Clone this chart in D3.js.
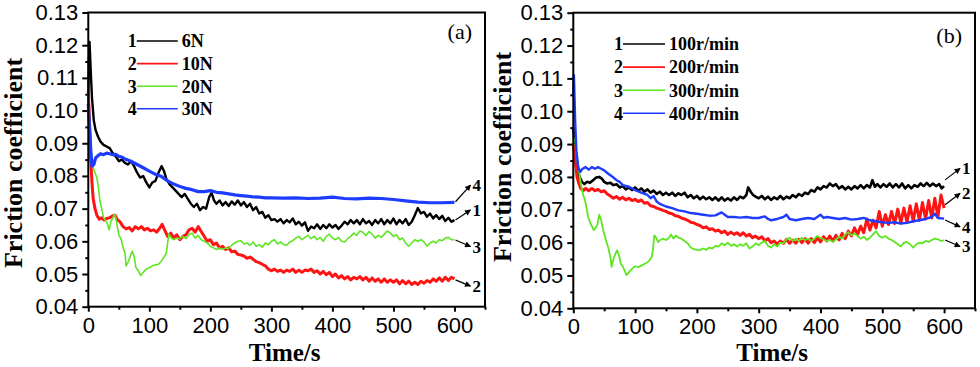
<!DOCTYPE html>
<html>
<head>
<meta charset="utf-8">
<title>Friction coefficient vs time</title>
<script src="https://d3js.org/d3.v7.min.js"></script>
<style>
  body { margin: 0; background: #fff; }
  .tick line { stroke: #000; stroke-width: 2px; }
  .title { font-family: "Liberation Serif", "Times New Roman", serif; font-weight: bold; font-size: 26px; }
  .xtitle { font-size: 25px; }
  .leg { font-family: "Liberation Serif", "Times New Roman", serif; font-weight: bold; font-size: 18px; }
  .tag { font-family: "Liberation Serif", "Times New Roman", serif; font-size: 22px; }
  .endlab { font-family: "Liberation Serif", "Times New Roman", serif; font-weight: bold; font-size: 17px; }
</style>
</head>
<body>
<svg id="chart" width="980" height="367"></svg>
<script>
// ---- data: [time s, friction coefficient] ----
var colors = ["#000000", "#ff1414", "#5ee622", "#1e3cff"];

// panel (a): different loads
var loadLabels = ["6N", "10N", "20N", "30N"];
var load6N = [[0,0.104],[1,0.115],[2,0.121],[4,0.112],[6,0.104],[9,0.097],[12,0.094],[16,0.092],[20,0.0905],[25,0.0895],[30,0.089],[35,0.0885],[40,0.087],[45,0.086],[50,0.0845],[55,0.085],[60,0.084],[65,0.0835],[70,0.0845],[75,0.083],[80,0.081],[85,0.0795],[90,0.080],[95,0.078],[100,0.0765],[105,0.078],[110,0.0785],[115,0.081],[120,0.083],[124,0.0815],[128,0.079],[133,0.0775],[138,0.0765],[143,0.0755],[148,0.0745],[153,0.0735],[158,0.0745],[163,0.073],[168,0.0715],[173,0.0705],[178,0.0715],[183,0.0695],[188,0.0705],[193,0.070],[198,0.0735],[202,0.0748],[206,0.0725],[210,0.0715],[215,0.0725],[220,0.071],[225,0.072],[230,0.0708],[235,0.0722],[240,0.0712],[245,0.0725],[250,0.071],[255,0.072],[260,0.0705],[265,0.0715],[270,0.0695],[275,0.0705],[280,0.0685],[285,0.069],[290,0.0672],[295,0.068],[300,0.0665],[305,0.0668],[310,0.066],[315,0.0668],[320,0.0655],[325,0.0665],[330,0.0658],[335,0.067],[340,0.0652],[345,0.066],[350,0.0648],[355,0.0658],[360,0.0632],[365,0.0645],[370,0.064],[375,0.0652],[380,0.0638],[385,0.065],[390,0.064],[395,0.0652],[400,0.0642],[405,0.065],[410,0.0638],[415,0.0648],[420,0.066],[425,0.0652],[430,0.0665],[435,0.0655],[440,0.0665],[445,0.0652],[450,0.0668],[455,0.0655],[460,0.0662],[465,0.065],[470,0.0665],[475,0.0655],[480,0.0668],[485,0.0652],[490,0.0665],[495,0.0655],[500,0.067],[505,0.0652],[510,0.0665],[515,0.0655],[520,0.0668],[525,0.065],[530,0.066],[535,0.068],[540,0.0702],[545,0.0685],[550,0.069],[555,0.0675],[560,0.0685],[565,0.067],[570,0.068],[575,0.0668],[580,0.0678],[585,0.0662],[590,0.0672],[595,0.066],[600,0.0665]];
var load10N = [[0,0.106],[2,0.096],[4,0.085],[6,0.078],[8,0.073],[11,0.070],[14,0.068],[18,0.0668],[22,0.0672],[26,0.0665],[30,0.067],[35,0.0672],[40,0.0678],[44,0.068],[48,0.0665],[52,0.066],[57,0.0645],[62,0.0638],[67,0.0642],[72,0.0632],[77,0.0645],[82,0.0638],[87,0.0645],[92,0.0635],[97,0.064],[102,0.0632],[107,0.0635],[112,0.0628],[117,0.064],[121,0.0652],[125,0.0635],[130,0.0615],[135,0.0625],[140,0.061],[145,0.062],[150,0.0605],[155,0.0615],[160,0.062],[165,0.0635],[170,0.064],[175,0.0628],[180,0.0645],[185,0.063],[190,0.0615],[195,0.060],[200,0.0605],[205,0.059],[210,0.0595],[215,0.058],[220,0.0585],[225,0.0575],[230,0.058],[235,0.0568],[240,0.057],[245,0.056],[250,0.0558],[255,0.0555],[260,0.0548],[265,0.0552],[270,0.0545],[275,0.0538],[280,0.0535],[285,0.053],[290,0.0525],[295,0.0515],[300,0.051],[305,0.0515],[310,0.0508],[315,0.0512],[320,0.0505],[325,0.0512],[330,0.0508],[335,0.0515],[340,0.0505],[345,0.0512],[350,0.0505],[355,0.0512],[360,0.051],[365,0.0515],[370,0.0505],[375,0.051],[380,0.050],[385,0.0508],[390,0.0498],[395,0.0505],[400,0.0492],[405,0.050],[410,0.0488],[415,0.0495],[420,0.0485],[425,0.0492],[430,0.0482],[435,0.049],[440,0.0485],[445,0.0492],[450,0.0482],[455,0.049],[460,0.0478],[465,0.0488],[470,0.0478],[475,0.0485],[480,0.0475],[485,0.0485],[490,0.0475],[495,0.0482],[500,0.0475],[505,0.0482],[510,0.047],[515,0.048],[520,0.047],[525,0.0478],[530,0.0468],[535,0.0475],[540,0.0468],[545,0.0478],[550,0.0472],[555,0.048],[560,0.0475],[565,0.0485],[570,0.0478],[575,0.0488],[580,0.0478],[585,0.049],[590,0.048],[595,0.049],[600,0.0485]];
var load20N = [[2,0.090],[5,0.087],[8,0.0825],[11,0.081],[14,0.0795],[17,0.076],[19,0.0725],[22,0.070],[25,0.0672],[28,0.0665],[31,0.0655],[34,0.0635],[37,0.066],[41,0.0675],[44,0.0683],[47,0.065],[50,0.062],[54,0.0605],[57,0.058],[60,0.0565],[62,0.0525],[65,0.0535],[68,0.055],[72,0.057],[75,0.0555],[78,0.052],[82,0.051],[86,0.0495],[90,0.0505],[95,0.0515],[100,0.052],[105,0.0525],[110,0.0528],[115,0.053],[120,0.054],[125,0.0555],[128,0.0565],[130,0.0595],[132,0.0622],[136,0.061],[140,0.0605],[145,0.061],[150,0.0608],[155,0.0615],[160,0.0608],[165,0.062],[170,0.0625],[175,0.061],[180,0.0618],[185,0.0605],[190,0.060],[195,0.0595],[200,0.0585],[205,0.058],[210,0.0575],[215,0.058],[220,0.0575],[225,0.058],[230,0.0578],[235,0.0588],[240,0.0595],[245,0.060],[250,0.0602],[255,0.0592],[260,0.0595],[265,0.0588],[270,0.0598],[275,0.0585],[280,0.059],[285,0.0582],[290,0.0595],[295,0.059],[300,0.060],[305,0.0605],[310,0.0592],[315,0.0598],[320,0.059],[325,0.0588],[330,0.0598],[335,0.0602],[340,0.061],[345,0.0615],[350,0.0605],[355,0.0612],[360,0.0618],[365,0.0608],[370,0.0615],[375,0.0605],[380,0.0612],[385,0.060],[390,0.0615],[395,0.0622],[400,0.061],[405,0.0605],[410,0.0612],[415,0.060],[420,0.0598],[425,0.0608],[430,0.0615],[435,0.0625],[440,0.0618],[445,0.0632],[450,0.0628],[455,0.0618],[460,0.063],[465,0.0622],[470,0.061],[475,0.0618],[480,0.0612],[485,0.0622],[490,0.0632],[495,0.0625],[500,0.0615],[505,0.062],[510,0.0605],[515,0.061],[520,0.0595],[525,0.0585],[530,0.0595],[535,0.0605],[540,0.060],[545,0.0605],[550,0.0598],[555,0.0585],[560,0.0595],[565,0.060],[570,0.0595],[575,0.0605],[580,0.0602],[585,0.061],[590,0.0612],[595,0.0605],[600,0.0605]];
var load30N = [[0,0.102],[2,0.095],[4,0.088],[6,0.083],[9,0.0835],[12,0.0855],[16,0.0862],[20,0.0868],[25,0.0865],[30,0.087],[35,0.0868],[40,0.0865],[45,0.0866],[50,0.086],[55,0.0858],[60,0.0852],[70,0.0845],[80,0.0835],[90,0.0825],[100,0.0815],[110,0.0805],[120,0.0798],[130,0.0785],[140,0.0775],[150,0.0768],[160,0.0762],[170,0.0758],[180,0.0752],[190,0.0752],[200,0.0755],[210,0.075],[220,0.0748],[230,0.0745],[240,0.0742],[250,0.074],[260,0.0738],[270,0.0736],[280,0.0735],[290,0.0733],[300,0.0733],[320,0.0732],[340,0.0733],[360,0.0731],[380,0.0732],[400,0.0735],[420,0.0731],[440,0.073],[460,0.0732],[480,0.0731],[500,0.0728],[520,0.0724],[540,0.072],[560,0.0718],[580,0.0718],[600,0.0719]];

// panel (b): different rotating speeds
var speedLabels = ["100r/min", "200r/min", "300r/min", "400r/min"];
var speed100 = [[0,0.095],[3,0.088],[6,0.083],[10,0.080],[14,0.0785],[18,0.0778],[22,0.0785],[27,0.0782],[32,0.079],[37,0.0798],[42,0.080],[46,0.0795],[50,0.0785],[55,0.078],[60,0.0782],[65,0.0775],[70,0.0778],[75,0.0768],[80,0.0772],[85,0.0762],[90,0.0768],[95,0.076],[100,0.0768],[105,0.0758],[110,0.0765],[115,0.0755],[120,0.0762],[125,0.0752],[130,0.0758],[135,0.0748],[140,0.0755],[145,0.0745],[150,0.0752],[155,0.0745],[160,0.0752],[165,0.0742],[170,0.075],[175,0.0745],[180,0.0752],[185,0.0738],[190,0.0745],[195,0.0735],[200,0.0742],[205,0.0732],[210,0.074],[215,0.0732],[220,0.0738],[225,0.073],[230,0.0738],[235,0.0728],[240,0.0738],[245,0.0728],[250,0.0735],[255,0.0728],[260,0.0738],[265,0.073],[270,0.074],[275,0.0735],[280,0.0745],[283,0.0768],[287,0.0755],[291,0.0745],[295,0.074],[300,0.0735],[305,0.0742],[310,0.0732],[315,0.074],[320,0.073],[325,0.0738],[330,0.0732],[335,0.0742],[340,0.0732],[345,0.074],[350,0.0735],[355,0.0745],[360,0.0738],[365,0.0748],[370,0.0742],[375,0.0752],[380,0.0748],[385,0.076],[390,0.0755],[395,0.0768],[400,0.0762],[405,0.0772],[410,0.0768],[415,0.078],[420,0.0772],[425,0.0778],[430,0.0765],[435,0.0772],[440,0.0762],[445,0.077],[450,0.0762],[455,0.0772],[460,0.0765],[465,0.0775],[470,0.0765],[475,0.0775],[480,0.0768],[484,0.079],[488,0.077],[492,0.0778],[497,0.0768],[502,0.0778],[507,0.077],[512,0.078],[517,0.0768],[522,0.0778],[527,0.0768],[532,0.078],[537,0.0765],[542,0.0775],[547,0.0765],[552,0.0775],[557,0.077],[562,0.078],[567,0.0772],[572,0.0782],[577,0.0772],[582,0.078],[587,0.0772],[592,0.0778],[596,0.0765],[600,0.0772]];
var speed200 = [[0,0.09],[3,0.085],[6,0.080],[9,0.078],[12,0.0765],[16,0.0758],[20,0.0765],[25,0.0758],[30,0.0765],[35,0.0758],[40,0.0762],[45,0.0755],[50,0.0758],[55,0.0748],[60,0.0742],[65,0.0735],[70,0.074],[75,0.0732],[80,0.0738],[85,0.073],[90,0.0735],[95,0.0728],[100,0.0732],[105,0.0725],[110,0.073],[115,0.072],[120,0.0722],[125,0.0712],[130,0.071],[135,0.0705],[140,0.0702],[145,0.0698],[150,0.0695],[155,0.069],[160,0.0688],[165,0.0682],[170,0.068],[175,0.0675],[180,0.0672],[185,0.0668],[190,0.0662],[195,0.066],[200,0.0655],[205,0.0652],[210,0.0645],[215,0.0648],[220,0.064],[225,0.0642],[230,0.0635],[235,0.0638],[240,0.063],[245,0.0635],[250,0.0625],[255,0.0632],[260,0.0625],[265,0.063],[270,0.0622],[275,0.063],[280,0.062],[285,0.0625],[290,0.0615],[295,0.062],[300,0.0612],[305,0.0618],[310,0.0605],[315,0.0612],[320,0.060],[325,0.0605],[330,0.0595],[335,0.0605],[340,0.0598],[345,0.061],[350,0.0598],[355,0.0608],[360,0.0598],[365,0.061],[370,0.060],[375,0.0612],[380,0.0598],[385,0.0612],[390,0.060],[395,0.0615],[400,0.0602],[405,0.0618],[410,0.0605],[415,0.062],[420,0.0605],[425,0.0622],[430,0.0608],[435,0.0628],[440,0.0612],[445,0.0635],[450,0.062],[455,0.0645],[460,0.0625],[465,0.065],[470,0.063],[475,0.0672],[480,0.0638],[485,0.0668],[490,0.0645],[495,0.0695],[500,0.065],[505,0.0685],[510,0.0655],[515,0.0695],[520,0.0658],[525,0.0702],[530,0.066],[535,0.0705],[540,0.0662],[545,0.0712],[550,0.0665],[555,0.0718],[560,0.0668],[565,0.0722],[570,0.0672],[575,0.0728],[580,0.0675],[585,0.0735],[590,0.0678],[595,0.0745],[600,0.0705]];
var speed300 = [[2,0.092],[5,0.087],[8,0.083],[11,0.0795],[13,0.077],[16,0.0745],[19,0.0729],[22,0.070],[24,0.0678],[27,0.0662],[30,0.065],[33,0.0638],[36,0.0645],[39,0.0655],[42,0.0685],[45,0.067],[48,0.064],[51,0.062],[54,0.060],[57,0.0582],[60,0.0555],[62,0.0526],[65,0.055],[68,0.0565],[71,0.0577],[74,0.056],[77,0.0535],[80,0.0528],[83,0.0515],[86,0.0501],[90,0.051],[95,0.052],[100,0.0528],[105,0.0525],[110,0.053],[115,0.0535],[120,0.054],[124,0.0548],[127,0.0557],[129,0.058],[131,0.0622],[134,0.0615],[137,0.0602],[140,0.0607],[145,0.0612],[150,0.0608],[155,0.0615],[158,0.0625],[162,0.0612],[166,0.0622],[170,0.0615],[175,0.0612],[180,0.0605],[185,0.0598],[190,0.0585],[195,0.058],[200,0.0578],[205,0.0577],[210,0.0582],[215,0.0578],[220,0.0585],[225,0.0582],[230,0.059],[235,0.0588],[240,0.0598],[245,0.0592],[250,0.060],[255,0.059],[260,0.0595],[265,0.0588],[270,0.0595],[275,0.059],[280,0.0598],[285,0.0582],[290,0.0588],[295,0.0598],[300,0.0592],[305,0.060],[310,0.0605],[315,0.059],[320,0.0585],[325,0.0595],[330,0.0588],[335,0.060],[340,0.0598],[345,0.061],[350,0.0615],[355,0.0605],[360,0.0612],[365,0.0605],[370,0.0615],[375,0.0608],[380,0.0612],[385,0.0605],[390,0.0612],[395,0.062],[400,0.0615],[405,0.061],[410,0.0605],[415,0.0608],[420,0.0602],[425,0.061],[430,0.0618],[435,0.0612],[440,0.0625],[445,0.0632],[450,0.0622],[455,0.0628],[460,0.062],[465,0.0612],[470,0.0618],[475,0.0608],[480,0.0615],[485,0.0625],[490,0.0635],[495,0.062],[500,0.0615],[505,0.062],[510,0.0612],[515,0.0608],[520,0.0602],[525,0.0595],[530,0.0588],[535,0.060],[540,0.0602],[545,0.0595],[550,0.0585],[555,0.0595],[560,0.060],[565,0.0598],[570,0.0605],[575,0.0602],[580,0.0608],[585,0.0612],[590,0.061],[595,0.0605],[600,0.0607]];
var speed400 = [[0,0.105],[1,0.111],[3,0.097],[5,0.088],[8,0.083],[11,0.0815],[15,0.0825],[20,0.083],[25,0.0822],[30,0.083],[35,0.0825],[40,0.083],[45,0.0825],[50,0.082],[55,0.0812],[60,0.0805],[65,0.0798],[70,0.079],[75,0.0785],[80,0.0775],[90,0.077],[100,0.076],[110,0.0752],[120,0.0745],[125,0.0735],[130,0.0742],[135,0.0725],[140,0.0718],[150,0.071],[160,0.0705],[170,0.0698],[180,0.0695],[190,0.069],[200,0.0688],[210,0.0685],[220,0.0682],[230,0.0683],[240,0.0692],[245,0.0685],[250,0.0678],[260,0.0678],[270,0.0676],[280,0.0678],[290,0.0675],[300,0.0675],[310,0.068],[315,0.0672],[320,0.0668],[330,0.0672],[340,0.0678],[345,0.0685],[350,0.0672],[360,0.0668],[370,0.0672],[380,0.0675],[390,0.0672],[400,0.0685],[405,0.0675],[410,0.0678],[420,0.0675],[430,0.0672],[440,0.0675],[450,0.067],[460,0.0672],[470,0.0675],[480,0.0668],[490,0.0665],[500,0.0662],[510,0.066],[520,0.0662],[530,0.0658],[540,0.066],[550,0.0665],[560,0.0668],[570,0.0672],[580,0.0678],[585,0.0688],[590,0.0675],[600,0.0673]];

// curve numbers at the right end: label height and where the arrow leaves the curve
var endTagsA = [{n:"4", v:0.0772, from:0.0721}, {n:"1", v:0.0696, from:0.0665}, {n:"3", v:0.0584, from:0.0604}, {n:"2", v:0.0463, from:0.0482}];
var endTagsB = [{n:"1", v:0.0826, from:0.0791}, {n:"2", v:0.0750, from:0.0715}, {n:"4", v:0.0648, from:0.0669}, {n:"3", v:0.0588, from:0.0608}];

var yMajor = [0.04,0.05,0.06,0.07,0.08,0.09,0.10,0.11,0.12,0.13];
var xMajor = [0,100,200,300,400,500,600];

var svg = d3.select("#chart");

svg.append("defs").append("marker")
    .attr("id", "arr").attr("viewBox", "0 0 10 10")
    .attr("refX", 9).attr("refY", 5)
    .attr("markerWidth", 7).attr("markerHeight", 6)
    .attr("markerUnits", "userSpaceOnUse")
    .attr("orient", "auto")
  .append("path").attr("d", "M0,0L10,5L0,10z").attr("fill", "#000");

// tick labels: Arial-like, large
function styleAxis(a) {
    a.select(".domain").remove();
    a.attr("font-size", 22).attr("font-family", "'Liberation Sans', Arial, sans-serif");
    a.selectAll("text").attr("fill", "#000");
}

function drawPanel(p) {
    var g = svg.append("g").attr("transform", "translate(" + p.left + "," + p.top + ")");
    var x = d3.scaleLinear([0, 650], [0, p.w]);
    var y = d3.scaleLinear([0.04, 0.13], [p.h, 0]);

    // minor ticks first, then the major ones
    var yMinor = yMajor.slice(0, -1).map(function(v){ return v + 0.005; });
    var xMinor = xMajor.map(function(v){ return v + 50; });

    g.append("g").call(d3.axisLeft(y).tickValues(yMinor).tickSize(3).tickFormat(""))
        .call(styleAxis);
    g.append("g").call(d3.axisLeft(y).tickValues(yMajor).tickSize(6).tickPadding(4).tickFormat(d3.format(".2f")))
        .call(styleAxis);
    g.append("g").attr("transform", "translate(0," + p.h + ")")
        .call(d3.axisBottom(x).tickValues(xMinor).tickSize(3).tickFormat(""))
        .call(styleAxis);
    g.append("g").attr("transform", "translate(0," + p.h + ")")
        .call(d3.axisBottom(x).tickValues(xMajor).tickSize(5).tickPadding(p.xPad).tickFormat(d3.format("d")))
        .call(styleAxis);

    var line = d3.line().x(function(d){ return x(d[0]); }).y(function(d){ return y(d[1]); });

    g.selectAll("path.curve").data(p.series).join("path")
        .attr("class", "curve")
        .attr("d", function(d){ return line(d); })
        .attr("fill", "none")
        .attr("stroke", function(d, i){ return colors[i]; })
        .attr("stroke-width", function(d, i){ return p.widths[i]; })
        .attr("stroke-linejoin", "round");

    // frame
    g.append("rect").attr("width", p.w).attr("height", p.h)
        .attr("fill", "none").attr("stroke", "#000").attr("stroke-width", 2);

    // legend
    var leg = g.selectAll("g.leg").data(p.labels).join("g")
        .attr("transform", function(d, i){ return "translate(" + p.legX + "," + (p.legY + i * p.legDy) + ")"; });
    leg.append("text").attr("class", "leg").attr("text-anchor", "end").attr("dy", "0.35em")
        .text(function(d, i){ return i + 1; });
    leg.append("line").attr("x1", 0).attr("x2", p.legLen)
        .attr("stroke", function(d, i){ return colors[i]; }).attr("stroke-width", 1.6);
    leg.append("text").attr("class", "leg").attr("x", p.legLen + 4).attr("dy", "0.35em").text(function(d){ return d; });

    // panel tag
    g.append("text").attr("class", "tag").attr("x", p.w - 13).attr("y", p.tagY)
        .attr("text-anchor", "end").text(p.tag);

    // curve numbers with arrows
    var tags = g.selectAll("g.endtag").data(p.ends).join("g");
    tags.append("line")
        .attr("x1", x(600) + 1).attr("y1", function(d){ return y(d.from); })
        .attr("x2", x(600) + 16).attr("y2", function(d){ return y(d.v); })
        .attr("stroke", "#000").attr("stroke-width", 1.2)
        .attr("marker-end", "url(#arr)");
    tags.append("text").attr("class", "endlab")
        .attr("x", x(600) + 18).attr("y", function(d){ return y(d.v); }).attr("dy", "0.35em")
        .text(function(d){ return d.n; });

    // axis titles
    g.append("text").attr("class", "title xtitle").attr("text-anchor", "middle")
        .attr("x", p.w / 2 - 2).attr("y", 361 - p.top).text("Time/s");
    g.append("text").attr("class", "title").attr("text-anchor", "middle")
        .attr("transform", "translate(" + (p.ytX - p.left) + "," + (p.ytY - p.top) + ") rotate(-90)")
        .text("Friction coefficient");
}

drawPanel({left: 88.3, top: 12.5, w: 396.7, h: 294.2,
    series: [load6N, load10N, load20N, load30N], labels: loadLabels,
    widths: [2.4, 3, 1.6, 3.2], xPad: 5.5,
    legX: 48.5, legY: 28.5, legDy: 22.6, legLen: 41,
    tag: "(a)", tagY: 26.5, ends: endTagsA, ytX: 21.5, ytY: 163});

drawPanel({left: 573.3, top: 12.7, w: 401.7, h: 295.6,
    series: [speed100, speed200, speed300, speed400], labels: speedLabels,
    widths: [2.6, 3, 1.8, 2.4], xPad: 5,
    legX: 49.7, legY: 31.3, legDy: 23.1, legLen: 42,
    tag: "(b)", tagY: 30.3, ends: endTagsB, ytX: 511, ytY: 157});
</script>
</body>
</html>
